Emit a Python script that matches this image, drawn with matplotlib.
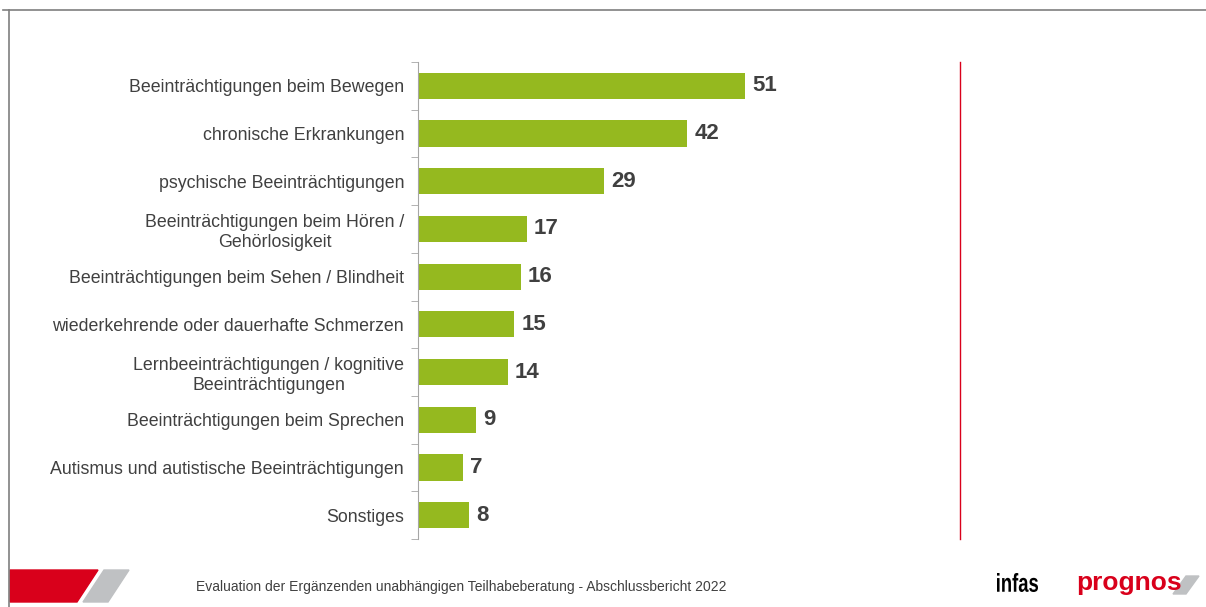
import matplotlib
matplotlib.use("Agg")
import matplotlib.pyplot as plt
import numpy as np
from matplotlib.lines import Line2D
from matplotlib.patches import Polygon, PathPatch
from matplotlib.textpath import TextPath
from matplotlib.font_manager import FontProperties
from matplotlib.transforms import Affine2D

plt.rcParams['font.family'] = ['Liberation Sans', 'DejaVu Sans']

categories = [
    "Beeinträchtigungen beim Bewegen",
    "chronische Erkrankungen",
    "psychische Beeinträchtigungen",
    "Beeinträchtigungen beim Hören /\nGehörlosigkeit",
    "Beeinträchtigungen beim Sehen / Blindheit",
    "wiederkehrende oder dauerhafte Schmerzen",
    "Lernbeeinträchtigungen / kognitive\nBeeinträchtigungen",
    "Beeinträchtigungen beim Sprechen",
    "Autismus und autistische Beeinträchtigungen",
    "Sonstiges",
]
values = [51, 42, 29, 17, 16, 15, 14, 9, 7, 8]
footer = "Evaluation der Ergänzenden unabhängigen Teilhabeberatung - Abschlussbericht 2022"

W, H = 1206, 607
fig = plt.figure(figsize=(W / 100, H / 100), dpi=100)

# axes placed in pixel coords: x 418..960, y 62..539
ax = fig.add_axes([418 / W, 1 - 539 / H, (960 - 418) / W, (539 - 62) / H])
y = np.arange(len(categories))
ax.barh(y, values, height=0.55, color="#95b91f", zorder=2)
ax.set_ylim(len(categories) - 0.5, -0.5)
ax.set_xlim(0, 84.5)

for yi, v in zip(y, values):
    ax.text(v + 1.1, yi, str(v), va="center", ha="left", fontsize=16,
            fontweight="bold", color="#404040")

ax.set_yticks(y)
ax.set_yticklabels(categories, fontsize=12.8, color="#404040", ha="right",
                   multialignment="center", linespacing=1.25)
ax.tick_params(axis="y", which="major", length=0, pad=10)
ax.set_yticks(np.arange(-0.5, len(categories)), minor=True)
ax.tick_params(axis="y", which="minor", length=5, color="#a6a6a6", direction="out")
ax.set_xticks([])

for s in ["top", "bottom"]:
    ax.spines[s].set_visible(False)
ax.spines["left"].set_color("#a6a6a6")
ax.spines["right"].set_color("#d9001b")
ax.spines["right"].set_linewidth(1.0)


def px(x, yy):
    return (x / W, 1 - yy / H)


# slide frame
fig.add_artist(Line2D([3 / W, 1], [1 - 9.5 / H] * 2, color="#7f7f7f", lw=1.2))
fig.add_artist(Line2D([8.5 / W] * 2, [0, 1 - 9.5 / H], color="#7f7f7f", lw=1.2))

# footer decoration
red = Polygon([px(10, 570), px(98, 570), px(77, 602), px(10, 602)],
              closed=True, color="#d9001b", transform=fig.transFigure)
grey = Polygon([px(104, 570), px(129, 570), px(108, 602), px(83, 602)],
               closed=True, color="#bfc1c3", transform=fig.transFigure)
fig.add_artist(red)
fig.add_artist(grey)

fig.text(196 / W, 1 - 587 / H, footer, fontsize=10, color="#404040", va="center")

# condensed "infas" logo text
tp = TextPath((0, 0), "infas", size=22, prop=FontProperties(family="Liberation Sans", weight="bold"))
bb = tp.get_extents()
sx = 41 / bb.width
sy = 19 / bb.height
tr = Affine2D().translate(-bb.x0, -bb.y0).scale(sx, sy).translate(997, H - 592)
fig.add_artist(PathPatch(tp, transform=tr, color="black", lw=0))

fig.text(1076 / W, 1 - 583 / H, "prognos", fontsize=19, fontweight="bold", color="#d9001b",
         va="center")
slash = Polygon([px(1186, 576), px(1199, 576), px(1186, 594), px(1173, 594)],
                closed=True, color="#bfc1c3", transform=fig.transFigure)
fig.add_artist(slash)

fig.savefig("out.png", dpi=100)
